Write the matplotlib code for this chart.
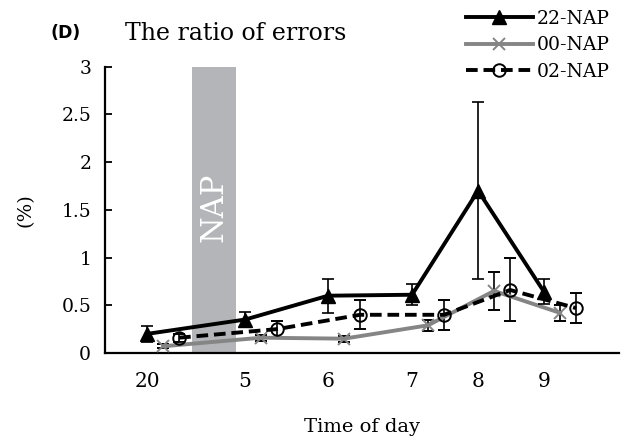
import numpy as np
import matplotlib.pyplot as plt
from matplotlib.lines import Line2D

# x positions of the time-of-day categories (axis units)
tick_pos = [0.42, 1.40, 2.23, 3.07, 3.73, 4.39]
tick_labels = ['20', '5', '6', '7', '8', '9']

nap_22 = [0.20, 0.35, 0.60, 0.61, 1.70, 0.64]
nap_22_err = [0.08, 0.08, 0.18, 0.11, 0.93, 0.13]
nap_00 = [0.07, 0.16, 0.15, 0.29, 0.65, 0.42]
nap_00_err = [0.02, 0.03, 0.03, 0.06, 0.20, 0.08]
nap_02 = [0.16, 0.25, 0.40, 0.40, 0.66, 0.47]
nap_02_err = [0.04, 0.08, 0.15, 0.16, 0.33, 0.16]

nap_band = (0.87, 1.31)

plt.rcParams['font.family'] = ['DejaVu Serif']

fig = plt.figure(figsize=(6.33, 4.44), dpi=100)
ax = fig.add_axes([0.166, 0.205, 0.812, 0.645])

ax.axvspan(*nap_band, color='#b4b5b8', lw=0, zorder=0)
ax.text(sum(nap_band) / 2, 1.53, 'NAP', rotation=90, color='white',
        fontsize=22, ha='center', va='center', zorder=1)

x = np.array(tick_pos)
common = dict(lw=2.8, capsize=4, ecolor='black', elinewidth=1.2, capthick=1.2)
styles = [
    dict(color='black', marker='^', ms=10, ls='-'),
    dict(color='#858585', marker='x', ms=8, mew=1.4, ls='-'),
    dict(color='black', marker='o', ms=9, mfc='none', mew=1.4, ls=(0, (3, 1.5))),
]
ax.errorbar(x, nap_22, yerr=nap_22_err, zorder=4, **styles[0], **common)
ax.errorbar(x + 0.16, nap_00, yerr=nap_00_err, zorder=3, **styles[1], **common)
ax.errorbar(x + 0.32, nap_02, yerr=nap_02_err, zorder=3, **styles[2], **common)

ax.set_xlim(0, 5.14)
ax.set_ylim(0, 3)
ax.set_yticks([0, 0.5, 1, 1.5, 2, 2.5, 3])
ax.set_yticklabels(['0', '0.5', '1', '1.5', '2', '2.5', '3'])
ax.set_xticks(tick_pos)
ax.set_xticklabels(tick_labels)
ax.tick_params(axis='x', length=0, pad=14, labelsize=14.5)
ax.tick_params(axis='y', direction='in', length=5, width=1.3, pad=10, labelsize=13.5)
for s in ['top', 'right']:
    ax.spines[s].set_visible(False)
for s in ['left', 'bottom']:
    ax.spines[s].set_linewidth(1.6)

ax.set_xlabel('Time of day', fontsize=14, labelpad=19)
ax.set_ylabel('(%)', fontsize=14, labelpad=19)

fig.text(0.08, 0.925, '(D)', fontsize=12.5, fontweight='bold',
         family='DejaVu Sans', va='center')
fig.text(0.197, 0.925, 'The ratio of errors', fontsize=17, va='center')

labels = ['22-NAP', '00-NAP', '02-NAP']
handles = [Line2D([], [], lw=2.8, **st) for st in styles]
fig.legend(handles, labels, loc='upper right', bbox_to_anchor=(0.975, 0.995),
           frameon=False, fontsize=13.5, handlelength=3.6, labelspacing=0.45,
           handletextpad=0.2, borderaxespad=0)

fig.savefig('out.png', dpi=100)
